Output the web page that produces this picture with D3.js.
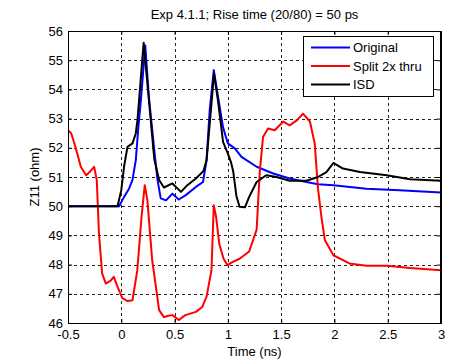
<!DOCTYPE html>
<html>
<head>
<meta charset="utf-8">
<script src="https://cdn.jsdelivr.net/npm/d3@7"></script>
<style>
  body { margin: 0; background: #fff; }
  svg text { font-family: "Liberation Sans", Arial, sans-serif; font-size: 13px; fill: #000; }
</style>
</head>
<body>
<div id="chart"></div>
<script>
// Data
var xTicks = [-0.5, 0, 0.5, 1, 1.5, 2, 2.5, 3];
var yTicks = [46, 47, 48, 49, 50, 51, 52, 53, 54, 55, 56];
var seriesNames = ['Original', 'Split 2x thru', 'ISD'];
var seriesColors = ['#0000ff', '#ff0000', '#000000'];

var origT = [-0.5, -0.02, 0.026, 0.073, 0.105, 0.136, 0.16, 0.183, 0.225, 0.26, 0.31, 0.34, 0.37, 0.42, 0.48, 0.54, 0.605, 0.70, 0.767, 0.8, 0.83, 0.868, 0.908, 0.955, 1.0, 1.065, 1.128, 1.27, 1.425, 1.58, 1.737, 1.846, 1.99, 2.3, 2.61, 3.0];
var origZ = [50, 50, 50.32, 50.6, 50.9, 51.57, 52.7, 53.6, 55.5, 53.7, 51.9, 50.9, 50.27, 50.2, 50.43, 50.23, 50.38, 50.66, 50.83, 51.57, 53.3, 54.66, 53.74, 52.7, 52.15, 51.98, 51.69, 51.35, 51.12, 50.95, 50.83, 50.75, 50.72, 50.6, 50.55, 50.47];

var splitT = [-0.5, -0.47, -0.43, -0.38, -0.33, -0.29, -0.255, -0.23, -0.21, -0.18, -0.145, -0.1, -0.07, -0.035, 0.01, 0.06, 0.105, 0.15, 0.19, 0.22, 0.245, 0.29, 0.355, 0.40, 0.44, 0.48, 0.54, 0.6, 0.7, 0.76, 0.80, 0.846, 0.868, 0.89, 0.92, 0.96, 0.996, 1.05, 1.11, 1.2, 1.27, 1.30, 1.33, 1.377, 1.44, 1.52, 1.58, 1.65, 1.705, 1.77, 1.815, 1.846, 1.878, 1.91, 1.99, 2.14, 2.3, 2.49, 2.71, 3.0];
var splitZ = [52.6, 52.5, 52.03, 51.35, 51.06, 51.2, 51.35, 50.9, 49.1, 47.7, 47.35, 47.45, 47.58, 47.24, 46.85, 46.75, 46.78, 47.8, 49.63, 50.72, 50.2, 48.15, 46.44, 46.2, 46.25, 46.27, 46.1, 46.27, 46.38, 46.55, 46.9, 47.8, 50.03, 49.63, 48.7, 48.2, 47.98, 48.1, 48.2, 48.45, 49.2, 51.2, 52.37, 52.66, 52.6, 52.9, 52.77, 52.95, 53.17, 52.9, 52.15, 50.6, 49.63, 48.84, 48.32, 48.04, 47.96, 47.96, 47.88, 47.81];

var isdT = [-0.5, -0.035, 0.0, 0.026, 0.058, 0.105, 0.136, 0.152, 0.167, 0.21, 0.25, 0.31, 0.355, 0.40, 0.48, 0.56, 0.62, 0.70, 0.77, 0.8, 0.846, 0.87, 0.908, 0.955, 1.0, 1.03, 1.05, 1.08, 1.11, 1.16, 1.2, 1.27, 1.36, 1.456, 1.58, 1.737, 1.846, 1.925, 1.99, 2.08, 2.24, 2.49, 2.71, 3.0];
var isdZ = [50, 50, 50.55, 51.35, 52.03, 52.15, 52.49, 52.95, 53.63, 55.6, 54.0, 51.6, 50.9, 50.64, 50.78, 50.49, 50.72, 50.95, 51.2, 51.57, 53.5, 54.54, 53.6, 52.2, 51.8, 51.5, 51.2, 50.35, 49.98, 49.96, 50.32, 50.83, 51.06, 51.0, 50.87, 50.87, 51.0, 51.17, 51.48, 51.29, 51.17, 51.06, 50.92, 50.87];

var chartWidth = 458;
var chartHeight = 359;
var plotLeft = 68, plotRight = 441, plotTop = 31, plotBottom = 323;

var svg = d3.select('#chart')
    .append('svg')
    .attr('width', chartWidth)
    .attr('height', chartHeight);

// Scales
var scaleX = d3.scaleLinear().domain([-0.5, 3]).range([plotLeft, plotRight]);
var scaleY = d3.scaleLinear().domain([46, 56]).range([plotBottom, plotTop]);

// Grid
var grid = svg.append('g')
    .attr('stroke', '#222')
    .attr('stroke-width', 1)
    .attr('stroke-dasharray', '3,3')
    .attr('shape-rendering', 'crispEdges');

grid.selectAll('line.gx')
    .data(xTicks.slice(1, -1))
    .enter()
    .append('line')
    .attr('class', 'gx')
    .attr('x1', function(d) { return Math.round(scaleX(d)) + 0.5; })
    .attr('x2', function(d) { return Math.round(scaleX(d)) + 0.5; })
    .attr('y1', plotTop)
    .attr('y2', plotBottom);

grid.selectAll('line.gy')
    .data(yTicks.slice(1, -1))
    .enter()
    .append('line')
    .attr('class', 'gy')
    .attr('y1', function(d) { return Math.round(scaleY(d)) + 0.5; })
    .attr('y2', function(d) { return Math.round(scaleY(d)) + 0.5; })
    .attr('x1', plotLeft)
    .attr('x2', plotRight);

// Clip path
svg.append('clipPath')
    .attr('id', 'plot-clip')
    .append('rect')
    .attr('x', plotLeft)
    .attr('y', plotTop)
    .attr('width', plotRight - plotLeft)
    .attr('height', plotBottom - plotTop);

// Lines
var series = [
  {t: origT, z: origZ},
  {t: splitT, z: splitZ},
  {t: isdT, z: isdZ}
];

var line = d3.line()
    .x(function(d) { return scaleX(d[0]); })
    .y(function(d) { return scaleY(d[1]); });

svg.append('g')
    .attr('clip-path', 'url(#plot-clip)')
    .selectAll('path')
    .data(series)
    .enter()
    .append('path')
    .attr('d', function(s) {
      return line(s.t.map(function(t, i) { return [t, s.z[i]]; }));
    })
    .attr('fill', 'none')
    .attr('stroke', function(s, i) { return seriesColors[i]; })
    .attr('stroke-width', 2)
    .attr('stroke-linejoin', 'round');

// Axes (ticks pointing inward, MATLAB style)
var fmt = function(d) { return String(d); };

svg.append('g')
    .attr('transform', 'translate(0,' + plotBottom + ')')
    .call(d3.axisBottom(scaleX).tickValues(xTicks).tickFormat(fmt).tickSize(-4).tickPadding(7));
svg.append('g')
    .attr('transform', 'translate(0,' + plotTop + ')')
    .call(d3.axisTop(scaleX).tickValues(xTicks).tickFormat('').tickSize(-4));
svg.append('g')
    .attr('transform', 'translate(' + plotLeft + ',0)')
    .call(d3.axisLeft(scaleY).tickValues(yTicks).tickFormat(fmt).tickSize(-4).tickPadding(5));
svg.append('g')
    .attr('transform', 'translate(' + plotRight + ',0)')
    .call(d3.axisRight(scaleY).tickValues(yTicks).tickFormat('').tickSize(-4));

svg.selectAll('.domain').attr('stroke', '#000');
svg.selectAll('.tick line').attr('stroke', '#000');
svg.selectAll('.tick text').attr('font-size', 13).attr('font-family', '"Liberation Sans", Arial, sans-serif');

// Box
svg.append('rect')
    .attr('x', plotLeft + 0.5)
    .attr('y', plotTop + 0.5)
    .attr('width', plotRight - plotLeft - 1)
    .attr('height', plotBottom - plotTop)
    .attr('fill', 'none')
    .attr('stroke', '#000')
    .attr('shape-rendering', 'crispEdges');

// Title and labels
svg.append('text')
    .attr('x', (plotLeft + plotRight) / 2)
    .attr('y', 19)
    .attr('text-anchor', 'middle')
    .text('Exp 4.1.1; Rise time (20/80) = 50 ps');

svg.append('text')
    .attr('x', (plotLeft + plotRight) / 2)
    .attr('y', 356)
    .attr('text-anchor', 'middle')
    .text('Time (ns)');

svg.append('text')
    .attr('transform', 'translate(39,' + ((plotTop + plotBottom) / 2) + ') rotate(-90)')
    .attr('text-anchor', 'middle')
    .text('Z11 (ohm)');

// Legend
var legend = svg.append('g').attr('transform', 'translate(303,36)');
legend.append('rect')
    .attr('x', 0.5)
    .attr('y', 0.5)
    .attr('width', 130)
    .attr('height', 60)
    .attr('fill', '#fff')
    .attr('stroke', '#000')
    .attr('shape-rendering', 'crispEdges');

var items = legend.selectAll('g.item')
    .data(seriesNames)
    .enter()
    .append('g')
    .attr('class', 'item')
    .attr('transform', function(d, i) { return 'translate(0,' + (11.5 + i * 18.5) + ')'; });

items.append('line')
    .attr('x1', 8)
    .attr('x2', 47)
    .attr('stroke', function(d, i) { return seriesColors[i]; })
    .attr('stroke-width', 2);

items.append('text')
    .attr('x', 50)
    .attr('dy', '0.35em')
    .text(function(d) { return d; });
</script>
</body>
</html>
